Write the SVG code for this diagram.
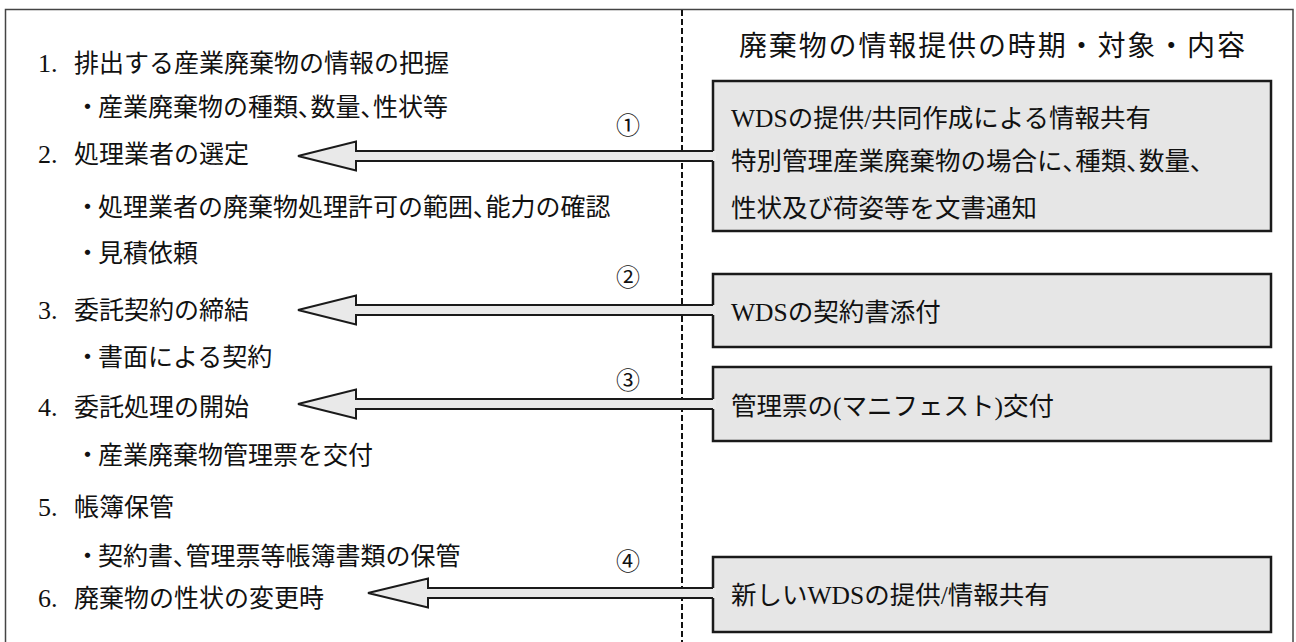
<svg xmlns="http://www.w3.org/2000/svg" width="1296" height="642" viewBox="0 0 1296 642">
<style>
text{font-family:"Liberation Serif","Noto Sans CJK JP",serif;fill:#111;}
.l{font-size:25px;}
.n{font-size:26px;}
.r{font-size:25.5px;}
.t{font-size:28px;}
.c{font-size:24px;}
.p{font-feature-settings:"palt";}
.box{fill:#e6e6e6;stroke:#1a1a1a;stroke-width:2.5;}
.af{fill:#e9e9e9;stroke:none;}
.as{fill:none;stroke:#1a1a1a;stroke-width:2;stroke-linejoin:miter;}
</style>
<rect x="5.5" y="9.5" width="1287.5" height="650" fill="#fff" stroke="#444" stroke-width="1.5"/>
<line x1="682" y1="10" x2="682" y2="642" stroke="#111" stroke-width="2" stroke-dasharray="6 3"/>

<g id="steps">
<text class="l" y="72"><tspan class="n" x="38">1. </tspan><tspan x="74">排出する産業廃棄物の情報の把握</tspan></text>
<text class="l" y="115.5"><tspan x="75">・</tspan><tspan x="98">産業廃棄物の種類<tspan class="p">、</tspan>数量<tspan class="p">、</tspan>性状等</tspan></text>
<text class="l" y="162.5"><tspan class="n" x="38">2. </tspan><tspan x="74">処理業者の選定</tspan></text>
<text class="l" y="215.5"><tspan x="75">・</tspan><tspan x="98">処理業者の廃棄物処理許可の範囲<tspan class="p">、</tspan>能力の確認</tspan></text>
<text class="l" y="261.5"><tspan x="75">・</tspan><tspan x="98">見積依頼</tspan></text>
<text class="l" y="318.5"><tspan class="n" x="38">3. </tspan><tspan x="74">委託契約の締結</tspan></text>
<text class="l" y="365.5"><tspan x="75">・</tspan><tspan x="98">書面による契約</tspan></text>
<text class="l" y="416"><tspan class="n" x="38">4. </tspan><tspan x="74">委託処理の開始</tspan></text>
<text class="l" y="463.5"><tspan x="75">・</tspan><tspan x="98">産業廃棄物管理票を交付</tspan></text>
<text class="l" y="515.5"><tspan class="n" x="38">5. </tspan><tspan x="74">帳簿保管</tspan></text>
<text class="l" y="564.5"><tspan x="75">・</tspan><tspan x="98">契約書<tspan class="p">、</tspan>管理票等帳簿書類の保管</tspan></text>
<text class="l" y="607"><tspan class="n" x="38">6. </tspan><tspan x="74">廃棄物の性状の変更時</tspan></text>
</g>

<g id="title">
<text class="t" x="739" y="56" textLength="506" lengthAdjust="spacing">廃棄物の情報提供の時期・対象・内容</text>
</g>

<g id="box1">
<rect class="box" x="713" y="81" width="558" height="150"/>
<text class="r" x="731" y="127">WDSの提供/共同作成による情報共有</text>
<text class="r" x="731" y="170">特別管理産業廃棄物の場合に<tspan class="p">、</tspan>種類<tspan class="p">、</tspan>数量<tspan class="p">、</tspan></text>
<text class="r" x="731" y="217">性状及び荷姿等を文書通知</text>
</g>
<g id="box2">
<rect class="box" x="713" y="274" width="558" height="73"/>
<text class="r" x="731" y="321">WDSの契約書添付</text>
</g>
<g id="box3">
<rect class="box" x="713" y="367" width="558" height="74"/>
<text class="r" x="731" y="415">管理票の(マニフェスト)交付</text>
</g>
<g id="box4">
<rect class="box" x="713" y="557" width="558" height="75"/>
<text class="r" x="731" y="604">新しいWDSの提供/情報共有</text>
</g>

<g id="connectors">
<path class="af" d="M716,151 H356 V141.5 L298,156 L356,170.5 V161 H716 Z"/>
<path class="as" d="M713,151 H356 V141.5 L298,156 L356,170.5 V161 H713"/>
<path class="af" d="M716,305 H356 V295.5 L298,310 L356,324.5 V315 H716 Z"/>
<path class="as" d="M713,305 H356 V295.5 L298,310 L356,324.5 V315 H713"/>
<path class="af" d="M716,399 H356 V389.5 L298,404 L356,418.5 V409 H716 Z"/>
<path class="as" d="M713,399 H356 V389.5 L298,404 L356,418.5 V409 H713"/>
<path class="af" d="M716,588 H428 V578.5 L368,593 L428,607.5 V598 H716 Z"/>
<path class="as" d="M713,588 H428 V578.5 L368,593 L428,607.5 V598 H713"/>
<text class="c" x="628" y="134" text-anchor="middle">①</text>
<text class="c" x="628" y="286" text-anchor="middle">②</text>
<text class="c" x="628" y="389" text-anchor="middle">③</text>
<text class="c" x="628" y="570" text-anchor="middle">④</text>
</g>
</svg>
